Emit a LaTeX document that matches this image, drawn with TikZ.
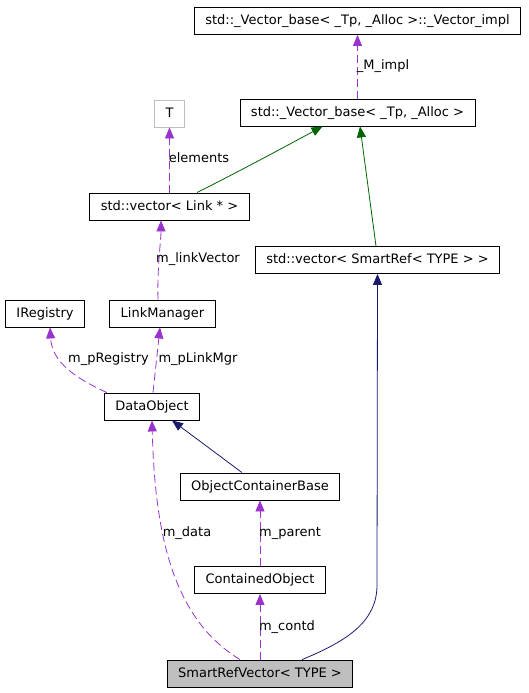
\documentclass[tikz,border=0pt]{standalone}
\usepackage{fontspec}
\setmainfont{DejaVu Sans}
\usetikzlibrary{arrows.meta}
\definecolor{edgeuse}{RGB}{154,50,205}
\definecolor{edgeinh}{RGB}{0,100,0}
\definecolor{edgepub}{RGB}{25,25,112}

\begin{document}
\begin{tikzpicture}[x=1pt, y=-1pt]
\tikzset{
   >={Triangle[length=11pt, width=9pt]},
   cls/.style = {rectangle, draw, line width = 0.9pt, minimum height = 27pt, inner xsep = 11pt, font = \fontsize{13}{15}\selectfont, text height = 9.5pt, text depth = 2.5pt},
   cls_ext/.style = {cls, draw = black!25},
   cls_main/.style = {cls, fill = black!25},
   lbl/.style = {inner sep = 0pt, font = \fontsize{13}{15}\selectfont, text height = 9.5pt, text depth = 2.5pt},
   usage/.style = {->, edgeuse, line width = 0.8pt, dash pattern = on 8pt off 4pt},
   inherit/.style = {->, edgeinh, line width = 0.8pt},
   public/.style = {->, edgepub, line width = 0.8pt}
 }
  \useasboundingbox (0,0) rectangle (528,693);

  \node[cls] (impl) at (357.5,21) {std::\_Vector\_base< \_Tp, \_Alloc >::\_Vector\_impl};
  \node[cls] (vecbase) at (357.5,112.5) {std::\_Vector\_base< \_Tp, \_Alloc >};
  \node[cls_ext] (t) at (169.5,113.5) {T};
  \node[cls] (veclink) at (169.5,206.5) {std::vector< Link * >};
  \node[cls] (vecsmart) at (377.5,260) {std::vector< SmartRef< TYPE > >};
  \node[cls] (registry) at (45,313.5) {IRegistry};
  \node[cls] (linkmgr) at (162.5,313.5) {LinkManager};
  \node[cls] (dataobj) at (152,406.5) {DataObject};
  \node[cls] (contbase) at (260,486.5) {ObjectContainerBase};
  \node[cls] (contobj) at (260,580) {ContainedObject};
  \node[cls_main] (refvec) at (260,673.5) {SmartRefVector< TYPE >};

  % members
  \draw[usage] (vecbase.north -| impl) -- (impl.south);
  \node[lbl] (lbl_impl) at (383,66) {\_M\_impl};

  \draw[usage] (veclink.north -| t) -- (t.south);
  \node[lbl] (lbl_elem) at (199,159) {elements};

  \draw[usage] ([xshift=-4.5pt]linkmgr.north) .. controls (157,270) and (161,240) .. ([xshift=-8.5pt]veclink.south);
  \node[lbl] (lbl_vec) at (198,259) {m\_linkVector};

  \draw[usage] ([xshift=3pt]dataobj.north west) .. controls (75,378) and (52,362) .. ([xshift=5pt]registry.south);
  \node[lbl] (lbl_reg) at (108.5,359) {m\_pRegistry};

  \draw[usage] ([xshift=1pt]dataobj.north) -- ([xshift=-2.5pt]linkmgr.south);
  \node[lbl] (lbl_mgr) at (198,359) {m\_pLinkMgr};

  \draw[usage] ([xshift=-20pt]refvec.north) .. controls (175,620) and (155,540) .. (dataobj.south);
  \node[lbl] (lbl_data) at (187,533) {m\_data};

  \draw[usage] (contobj.north) -- (contbase.south);
  \node[lbl] (lbl_parent) at (290,533) {m\_parent};

  \draw[usage] (refvec.north) -- (contobj.south);
  \node[lbl] (lbl_contd) at (287,627) {m\_contd};

  % bases
  \draw[inherit] ([xshift=27.5pt]veclink.north) .. controls (240,171) and (290,144) .. ([xshift=-35pt]vecbase.south);
  \draw[inherit] ([xshift=-1.5pt]vecsmart.north) -- ([xshift=2.5pt]vecbase.south);
  \draw[public] ([xshift=-18pt]contbase.north) -- ([xshift=20pt]dataobj.south);
  \draw[public] ([xshift=42pt]refvec.north) .. controls (350,640) and (377,620) .. (377,585) -- (vecsmart.south);

\end{tikzpicture}
\end{document}
